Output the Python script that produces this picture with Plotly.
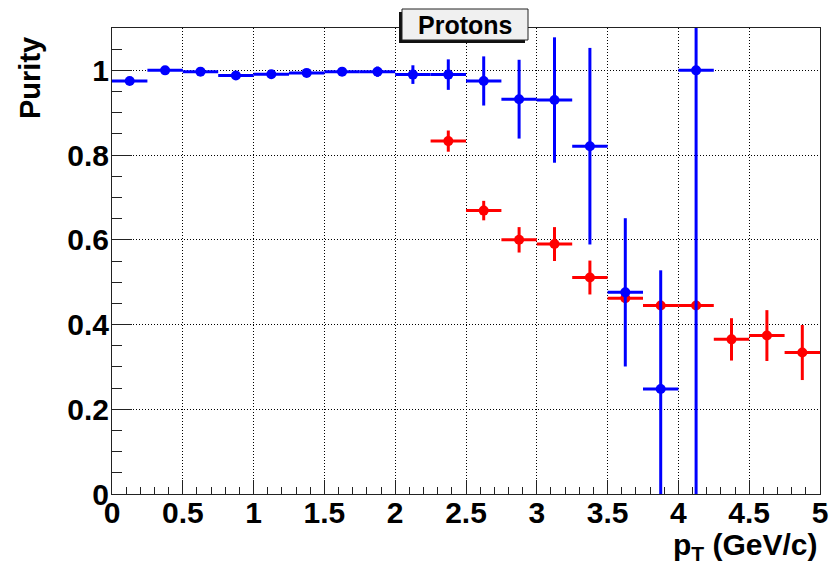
import plotly.graph_objects as go

# ---- data ----
blue_pt = [0.125, 0.375, 0.625, 0.875, 1.125, 1.375, 1.625, 1.875, 2.125,
           2.375, 2.625, 2.875, 3.125, 3.375, 3.625, 3.875, 4.125]
blue_purity = [0.975, 1.000, 0.997, 0.988, 0.991, 0.994, 0.997, 0.997, 0.990,
               0.990, 0.975, 0.932, 0.930, 0.821, 0.476, 0.248, 1.000]
blue_err = [0.004, 0.004, 0.004, 0.004, 0.004, 0.004, 0.005, 0.012, 0.022,
            0.036, 0.058, 0.093, 0.148, 0.232, 0.175, 0.280, 1.000]

red_pt = [2.375, 2.625, 2.875, 3.125, 3.375, 3.625, 3.875, 4.125, 4.375, 4.625, 4.875]
red_purity = [0.833, 0.669, 0.600, 0.590, 0.511, 0.462, 0.445, 0.445, 0.365, 0.374, 0.334]
red_err = [0.025, 0.023, 0.030, 0.040, 0.040, 0.010, 0.010, 0.010, 0.050, 0.060, 0.065]

bin_half = 0.125
x_ticks = [0, 0.5, 1, 1.5, 2, 2.5, 3, 3.5, 4, 4.5, 5]
x_ticklabels = ["0", "0.5", "1", "1.5", "2", "2.5", "3", "3.5", "4", "4.5", "5"]
y_ticks = [0, 0.2, 0.4, 0.6, 0.8, 1]
y_ticklabels = ["0", "0.2", "0.4", "0.6", "0.8", "1"]

FONT = "Liberation Sans"

def series(x, y, e, color):
    return go.Scatter(
        x=x, y=y, mode="markers",
        marker=dict(color=color, size=10, symbol="circle", line=dict(width=0)),
        error_x=dict(type="constant", value=bin_half, color=color, thickness=3, width=0),
        error_y=dict(type="data", array=e, color=color, thickness=3, width=0),
        showlegend=False, cliponaxis=True,
    )

fig = go.Figure()
fig.add_trace(series(red_pt, red_purity, red_err, "#ff0000"))
fig.add_trace(series(blue_pt, blue_purity, blue_err, "#0000ff"))

W, H = 831, 568
L, R, T, B = 112, 11, 28, 74
pw, ph = W - L - R, H - T - B

def px(xp):
    return (xp - L) / pw

def py(yp):
    return (H - B - yp) / ph

axis_common = dict(
    showline=True, linecolor="#222", linewidth=1, mirror=True,
    ticks="inside", tickcolor="#222", tickwidth=1,
    showgrid=True, gridcolor="#000", gridwidth=1, griddash="1px,2px",
    zeroline=False, automargin=False,
    tickfont=dict(family=FONT, size=30, color="black", weight="bold"),
)

fig.update_layout(
    width=W, height=H,
    margin=dict(l=L, r=R, t=T, b=B, pad=0),
    paper_bgcolor="white", plot_bgcolor="white",
    xaxis=dict(range=[0, 5], tickmode="array", tickvals=x_ticks, ticktext=x_ticklabels,
               ticklen=14, ticklabelstandoff=-8,
               minor=dict(dtick=0.1, ticks="inside", ticklen=7, tickcolor="#222", showgrid=False),
               **axis_common),
    yaxis=dict(range=[0, 1.1], tickmode="array", tickvals=y_ticks, ticktext=y_ticklabels,
               ticklen=20, ticklabelstandoff=-4,
               minor=dict(dtick=0.05, ticks="inside", ticklen=10, tickcolor="#222", showgrid=False),
               **axis_common),
)

# title box with shadow
fig.add_shape(type="rect", xref="paper", yref="paper",
              x0=px(399), x1=px(525), y0=py(43), y1=py(12),
              fillcolor="#111", line=dict(width=0), layer="above")
fig.add_shape(type="rect", xref="paper", yref="paper",
              x0=px(402), x1=px(528), y0=py(40), y1=py(9),
              fillcolor="#f0f0f0", line=dict(color="#222", width=1), layer="above")
fig.add_annotation(xref="paper", yref="paper", x=px(465), y=py(25),
                   text="Protons", showarrow=False,
                   font=dict(family=FONT, size=25, color="black", weight="bold"),
                   xanchor="center", yanchor="middle")

# axis titles
fig.add_annotation(xref="paper", yref="paper", x=px(820), y=py(546),
                   text="p<sub>T</sub> (GeV/c)", showarrow=False,
                   font=dict(family=FONT, size=30, color="black", weight="bold"),
                   xanchor="right", yanchor="middle")
fig.add_annotation(xref="paper", yref="paper", x=px(30), y=py(35),
                   text="Purity", showarrow=False, textangle=-90,
                   font=dict(family=FONT, size=29, color="black", weight="bold"),
                   xanchor="center", yanchor="top")

fig.write_html("out.html")
